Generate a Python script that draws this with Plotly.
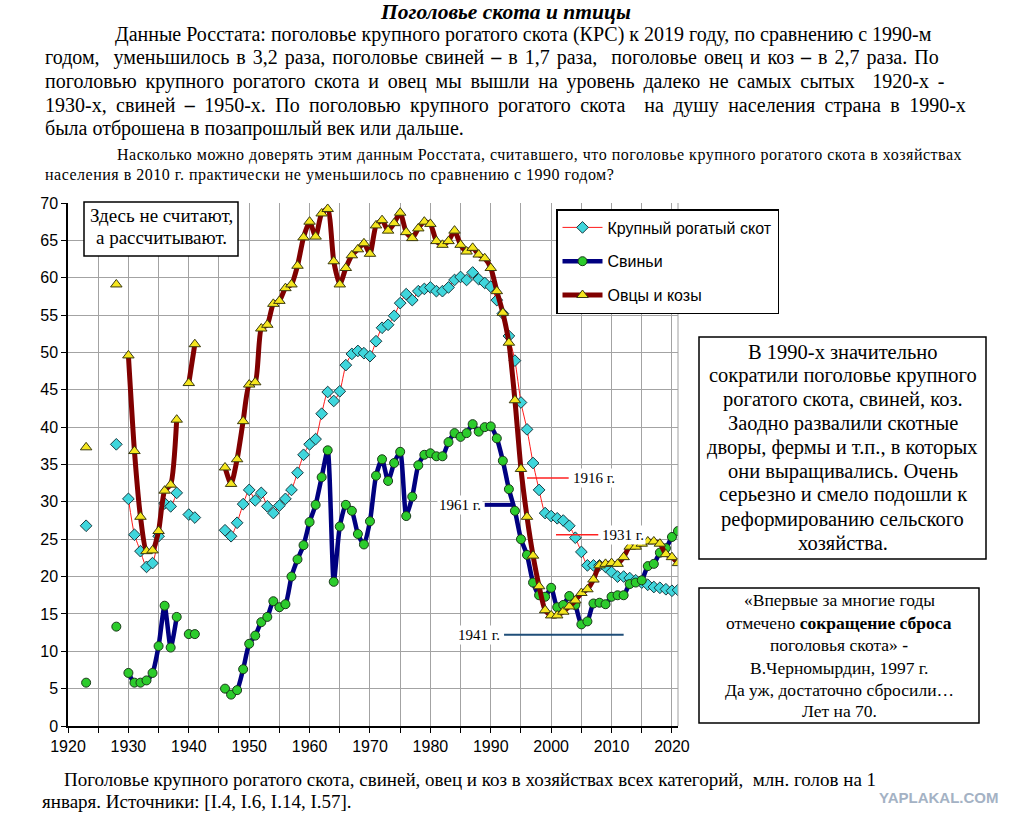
import plotly.graph_objects as go

N = None
years = list(range(1923, 2022))

cattle = [26.8, N, N, N, N, 37.7, N,
          30.4, 25.6, 23.4, 21.3, 21.8, 25.4, 29.8, 29.4, 31.2, N,
          28.3, 27.9, N, N, N, N,
          26.2, 25.4, 27.2, 29.7, 31.6, 30.2, 31.2, 29.4, 28.5, 29.5,
          30.4, 31.6, 33.9, 36.3, 37.7, 38.4, 41.8, 44.7, 43.5, 44.8,
          48.3, 49.8, 50.2, 49.9, 49.5, 51.5, 53.3, 53.7, 54.9, 56.6,
          57.8, 57.0, 58.2, 58.5, 58.7, 58.2, 58.2, 58.7, 59.7, 60.1,
          59.7, 60.7, 59.8, 59.3, 58.8, 57.0, 55.2, 52.2, 48.9, 43.3,
          39.7, 35.2, 31.6, 28.5, 28.1, 27.8, 27.5, 26.8, 25.2, 23.3,
          21.5, 21.5, 21.5, 21.3, 20.6, 20.0, 20.0, 19.8, 19.5, 19.2,
          18.9, 18.6, 18.5, 18.3, 18.1, 18.2]

pigs = [5.8, N, N, N, N, 13.3, N,
        7.1, 5.8, 5.8, 6.1, 7.1, 10.7, 16.1, 10.5, 14.6, N,
        12.3, 12.3, N, N, N, N,
        5.0, 4.2, 4.8, 7.6, 11.0, 12.1, 13.9, 14.6, 16.7, 15.9,
        16.3, 20.0, 22.3, 24.2, 27.3, 29.6, 33.3, 36.9, 19.3, 26.7,
        29.6, 28.8, 25.7, 24.3, 27.4, 33.5, 35.7, 32.8, 35.2, 36.7,
        28.1, 30.7, 34.9, 36.3, 36.5, 36.1, 36.1, 38.0, 39.2, 38.7,
        39.2, 40.4, 39.4, 40.0, 40.1, 38.5, 35.5, 31.7, 28.8, 25.0,
        22.9, 19.2, 17.5, 17.3, 18.5, 15.9, 16.2, 17.4, 16.2, 13.6,
        14.0, 16.4, 16.5, 16.3, 17.3, 17.5, 17.5, 19.0, 19.2, 19.5,
        21.4, 21.7, 23.2, 23.8, 25.3, 26.1]

sheep = [37.3, N, N, N, N, 59.1, N,
         49.6, 36.8, 28.0, 23.4, 23.5, 26.1, 31.5, 32.3, 41.0, N,
         45.9, 51.1, N, N, N, N,
         34.6, 32.4, 35.7, 40.8, 45.7, 46.0, 53.2, 53.7, 56.5, 56.9,
         58.6, 59.1, 61.6, 65.4, 67.5, 65.5, 68.6, 69.2, 62.2, 59.1,
         61.3, 63.0, 63.8, 64.6, 63.2, 67.0, 67.7, 66.3, 67.3, 68.7,
         66.1, 65.3, 66.6, 67.5, 67.2, 64.9, 64.4, 64.9, 66.3, 64.4,
         63.5, 64.0, 63.1, 62.6, 61.3, 58.2, 55.3, 51.3, 43.6, 34.4,
         28.0, 22.8, 18.7, 15.5, 14.8, 14.8, 15.3, 16.0, 16.8, 17.8,
         18.3, 19.6, 21.5, 21.7, 21.8, 21.7, 22.6, 24.0, 24.0, 24.4,
         24.7, 24.7, 24.4, 23.0, 22.6, 21.8]

series_names = ["Крупный рогатый скот", "Свиньи", "Овцы и козы"]

ref_labels = ["1916 г.", "1931 г.", "1941 г.", "1961 г."]
ref_levels = [33.2, 25.6, 12.2, 29.6]

SERIF = "Liberation Serif, Times New Roman, serif"
SANS = "Liberation Sans, Arial, sans-serif"

# page coordinates of the plot area
PL, PR, PT, PB = 68, 678, 203, 726
W, H = 1027, 826


def fx(px):
    return (px - PL) / (PR - PL)


def fy(py):
    return (PB - py) / (PB - PT)


fig = go.Figure()

fig.add_trace(go.Scatter(
    x=years, y=cattle, name=series_names[0], mode="lines+markers",
    legendgroup="a",
    line=dict(color="#ff1a1a", width=1, shape="spline", smoothing=0.6),
    marker=dict(symbol="diamond", size=9, color="#3fd6dc",
                line=dict(color="#1a3a40", width=1)),
    connectgaps=False))

fig.add_trace(go.Scatter(
    x=years, y=pigs, name=series_names[1], mode="lines+markers",
    legendgroup="b",
    line=dict(color="#000080", width=4.5, shape="spline", smoothing=0.6),
    marker=dict(symbol="circle", size=9, color="#2ccc2c",
                line=dict(color="#1a3a1a", width=1)),
    connectgaps=False))

fig.add_trace(go.Scatter(
    x=years, y=sheep, name=series_names[2], mode="lines+markers",
    legendgroup="c",
    line=dict(color="#800000", width=5, shape="spline", smoothing=0.6),
    marker=dict(symbol="triangle-up", size=10, color="#f5e61e",
                line=dict(color="#3a3a10", width=1)),
    connectgaps=False))

shapes = []
annotations = []


def text_at(px, py, t, size, anchor="left", family=SERIF, color="black", style=None):
    if style:
        t = '<span style="%s">%s</span>' % (style, t)
    annotations.append(dict(x=fx(px), y=fy(py), xref="paper", yref="paper", text=t,
                            showarrow=False, xanchor=anchor, yanchor="middle",
                            font=dict(family=family, size=size, color=color)))


# reference level segments
ref_style = {
    "1916 г.": dict(x0=1996.0, x1=2002.9, color="#ff2020", width=1.5, side="right"),
    "1931 г.": dict(x0=2000.8, x1=2007.8, color="#ff2020", width=1.5, side="right"),
    "1941 г.": dict(x0=1992.2, x1=2012.0, color="#1f4e79", width=2, side="left"),
    "1961 г.": dict(x0=1989.0, x1=1993.5, color="#000080", width=4, side="left"),
}
for lab, lev in zip(ref_labels, ref_levels):
    st = ref_style[lab]
    shapes.append(dict(type="line", xref="x", yref="y", x0=st["x0"], x1=st["x1"],
                       y0=lev, y1=lev, line=dict(color=st["color"], width=st["width"])))
    right = st["side"] == "right"
    annotations.append(dict(x=st["x1"] + 0.3 if right else st["x0"] - 0.3, y=lev,
                            xref="x", yref="y", text=lab, showarrow=False,
                            xanchor="left" if right else "right", yanchor="middle",
                            font=dict(family=SERIF, size=15, color="black"),
                            bgcolor="white", borderpad=1))

# right border of plot
shapes.append(dict(type="line", xref="paper", yref="paper", x0=1, x1=1, y0=0, y1=1,
                   line=dict(color="#a0a0a0", width=1)))

# boxes
boxes = [(84, 202, 238, 256), (699, 337, 986, 559), (699, 588, 979, 723)]
for (x0, y0, x1, y1) in boxes:
    shapes.append(dict(type="rect", xref="paper", yref="paper",
                       x0=fx(x0), x1=fx(x1), y0=fy(y1), y1=fy(y0),
                       fillcolor="white", line=dict(color="black", width=1.5)))

# top-left box
for py, t in zip([215, 237], ["Здесь не считают,", "а рассчитывают."]):
    text_at(161, py, t, 19, anchor="center")

box1_lines = ["В 1990-х значительно", "сократили поголовье крупного",
              "рогатого скота, свиней, коз.", "Заодно развалили скотные",
              "дворы, фермы и т.п., в которых", "они выращивались. Очень",
              "серьезно и смело подошли к", "реформированию сельского", "хозяйства."]
box1_y = [352, 375.5, 399, 423, 447, 471, 495, 519, 543]
for py, t in zip(box1_y, box1_lines):
    text_at(842.5, py, t, 20.5, anchor="center")

box2_lines = ["«Впервые за многие годы", "отмечено <b>сокращение сброса</b>",
              "поголовья скота» <b>-</b>", "В.Черномырдин, 1997 г.",
              "Да уж, достаточно сбросили…", "Лет на 70."]
box2_y = [600, 622.5, 645, 667.5, 690, 711]
for py, t in zip(box2_y, box2_lines):
    text_at(839, py, t, 17.5, anchor="center")

# title and paragraphs
text_at(505, 12, "<b><i>Поголовье скота и птицы</i></b>", 21.5, anchor="center")

para = [
    (113, 34, "Данные Росстата: поголовье крупного рогатого скота (КРС) к 2019 году, по сравнению с 1990-м", None),
    (43, 57, "годом,  уменьшилось в 3,2 раза, поголовье свиней <b>–</b> в 1,7 раза,  поголовье овец и коз <b>–</b> в 2,7 раза. По", "word-spacing:2px"),
    (43, 81, "поголовью крупного рогатого скота и овец мы вышли на уровень далеко не самых сытых  1920-х -", "word-spacing:3.8px"),
    (43, 105, "1930-х, свиней <b>–</b> 1950-х. По поголовью крупного рогатого скота  на душу населения страна в 1990-х", "word-spacing:4.4px"),
    (43, 129, "была отброшена в позапрошлый век или дальше.", None),
]
for x, y, t, s in para:
    text_at(x, y, t, 20, style=s)

small = [
    (115, 155, "Насколько можно доверять этим данным Росстата, считавшего, что поголовье крупного рогатого скота в хозяйствах"),
    (43, 175, "населения в 2010 г. практически не уменьшилось по сравнению с 1990 годом?"),
]
for x, y, t in small:
    text_at(x, y, t, 16, style="letter-spacing:0.5px")

caption = [
    (62, 779, "Поголовье крупного рогатого скота, свиней, овец и коз в хозяйствах всех категорий,  млн. голов на 1"),
    (40, 801, "января. Источники: [I.4, I.6, I.14, I.57]."),
]
for x, y, t in caption:
    text_at(x, y, t, 19)

text_at(1000, 797, "<b>YAPLAKAL.COM</b>", 15, anchor="right",
        family="Liberation Sans Narrow, Liberation Sans, sans-serif", color="#a4b2c4")

grid_col = "#a3a3a3"
fig.update_layout(
    width=W, height=H,
    margin=dict(l=PL, r=W - PR, t=PT, b=H - PB, pad=0),
    paper_bgcolor="white", plot_bgcolor="white",
    showlegend=True,
    legend=dict(x=fx(556), y=fy(209), xanchor="left", yanchor="top",
                bgcolor="white", bordercolor="black", borderwidth=1.5,
                font=dict(family=SANS, size=16, color="black"),
                tracegroupgap=10, itemwidth=40),
    xaxis=dict(range=[1920, 2021], tick0=1920, dtick=10, showgrid=True,
               gridcolor=grid_col, gridwidth=1, zeroline=False,
               showline=True, linecolor="black", linewidth=1.5,
               ticks="outside", ticklen=5, tickcolor="black",
               minor=dict(dtick=5, tick0=1920, showgrid=True, gridcolor=grid_col,
                          ticks="outside", ticklen=5, tickcolor="black"),
               tickfont=dict(family=SANS, size=16, color="black")),
    yaxis=dict(range=[0, 70], tick0=0, dtick=5, showgrid=True,
               gridcolor=grid_col, gridwidth=1, zeroline=False,
               showline=True, linecolor="black", linewidth=1.5,
               ticks="outside", ticklen=5, tickcolor="black",
               tickfont=dict(family=SANS, size=16, color="black")),
    shapes=shapes,
    annotations=annotations,
)

fig.write_html("out.html", config={"displayModeBar": False},
               post_script="document.body.style.margin='0';document.body.style.overflow='hidden';")
